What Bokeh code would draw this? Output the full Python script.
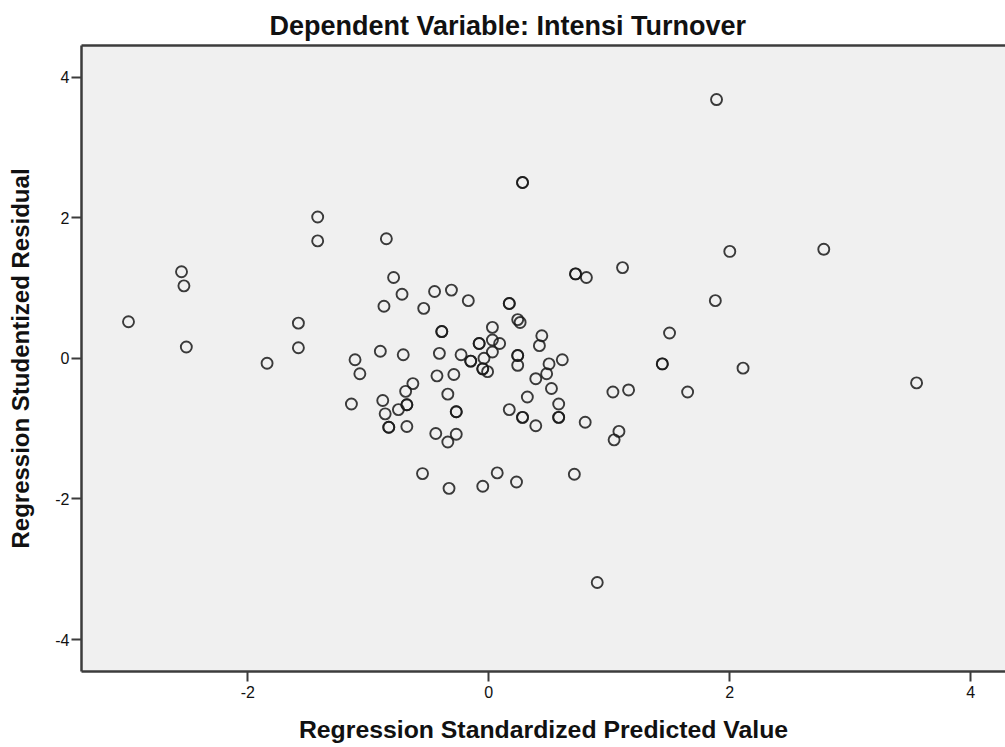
from bokeh.plotting import figure
from bokeh.models import Range1d, LinearAxis, FixedTicker, Title
from bokeh.embed import file_html
from bokeh.resources import INLINE

# Regression Standardized Predicted Value (x) and Studentized Residual (y)
pred = [1.89, 0.28, 0.28, -1.42, -1.42, -0.85, -2.55, -2.53, -2.99, -2.51, -1.58, -1.58, -1.84,
        2.00, 2.78, 1.11, 0.81, 0.72, 0.72, 1.88, 1.50, 1.44, 1.44, 2.11, 3.55, 1.03, 1.16, 1.65,
        0.80, 1.08, 1.04, 0.71, 0.90, -0.55, -0.33, -0.05, 0.07, 0.23,
        -0.79, -0.72, -0.87, -0.45, -0.31, -0.17, -0.54, 0.17, 0.17, -0.39, -0.39, -0.90, -0.71,
        -1.11, -1.07, -1.14, -0.88, -0.86, -0.83, -0.83, -0.75, -0.68, -0.68, -0.69, -0.63, -0.68,
        -0.41, -0.43, -0.29, -0.34, -0.27, -0.27, -0.44, -0.34, -0.27,
        0.03, 0.24, 0.26, 0.44, 0.42, -0.08, -0.08, 0.03, 0.09, 0.03, -0.04, -0.23, -0.15, -0.15,
        -0.05, -0.05, -0.01, 0.24, 0.24, 0.24, 0.61, 0.50, 0.48, 0.39, 0.52, 0.32, 0.58, 0.58, 0.58,
        0.17, 0.28, 0.28, 0.39]
resid = [3.68, 2.50, 2.50, 2.01, 1.67, 1.70, 1.23, 1.03, 0.52, 0.16, 0.50, 0.15, -0.07,
         1.52, 1.55, 1.29, 1.15, 1.20, 1.20, 0.82, 0.36, -0.08, -0.08, -0.14, -0.35, -0.48, -0.45, -0.48,
         -0.91, -1.04, -1.16, -1.65, -3.19, -1.64, -1.85, -1.82, -1.63, -1.76,
         1.15, 0.91, 0.74, 0.95, 0.97, 0.82, 0.71, 0.78, 0.78, 0.38, 0.38, 0.10, 0.05,
         -0.02, -0.22, -0.65, -0.60, -0.79, -0.98, -0.98, -0.73, -0.66, -0.66, -0.47, -0.36, -0.97,
         0.07, -0.25, -0.23, -0.51, -0.76, -0.76, -1.07, -1.19, -1.08,
         0.44, 0.55, 0.51, 0.32, 0.18, 0.21, 0.21, 0.26, 0.21, 0.09, 0.00, 0.05, -0.04, -0.04,
         -0.15, -0.15, -0.19, 0.04, 0.04, -0.10, -0.02, -0.08, -0.22, -0.29, -0.43, -0.55, -0.65, -0.84, -0.84,
         -0.73, -0.84, -0.84, -0.96]

x_ticks = [-2, 0, 2, 4]
y_ticks = [-4, -2, 0, 2, 4]
x_tick_labels = ["-2", "0", "2", "4"]
y_tick_labels = ["-4", "-2", "0", "2", "4"]

title_text = "Dependent Variable: Intensi Turnover"
x_label = "Regression Standardized Predicted Value"
y_label = "Regression Studentized Residual"

FONT = "Liberation Sans"
AX = "#3c3c3c"

p = figure(width=1005, height=747,
           x_range=Range1d(-3.38, 4.288), y_range=Range1d(-4.455, 4.449),
           output_backend="svg", toolbar_location=None,
           min_border_left=81, min_border_right=0, min_border_top=45, min_border_bottom=76,
           x_axis_location="below", y_axis_location="left")

p.title = Title(text=title_text, align="left", offset=188, text_font=FONT,
                text_font_size="27px", text_font_style="bold", text_color="#111111", standoff=10)

p.background_fill_color = "#f0f0f0"
p.border_fill_color = "white"
p.outline_line_color = None
p.xgrid.visible = False
p.ygrid.visible = False

for ax, ticks, labs, lab in ((p.xaxis[0], x_ticks, x_tick_labels, x_label),
                             (p.yaxis[0], y_ticks, y_tick_labels, y_label)):
    ax.ticker = FixedTicker(ticks=ticks)
    ax.major_label_overrides = {t: s for t, s in zip(ticks, labs)}
    ax.minor_tick_line_color = None
    ax.major_tick_in = 0
    ax.major_tick_out = 10
    ax.major_tick_line_width = 2
    ax.major_tick_line_color = AX
    ax.axis_line_width = 2.5
    ax.axis_line_color = AX
    ax.major_label_text_font = FONT
    ax.major_label_text_font_size = "16px"
    ax.major_label_text_color = "#111111"
    ax.axis_label = lab
    ax.axis_label_text_font = FONT
    ax.axis_label_text_font_style = "bold"
    ax.axis_label_text_color = "#111111"

p.xaxis.axis_label_text_font_size = "24.8px"
p.yaxis.axis_label_text_font_size = "24px"
p.xaxis.major_label_standoff = 4
p.yaxis.major_label_standoff = 2
p.xaxis.axis_label_standoff = 15
p.yaxis.axis_label_standoff = 18

# top frame line
top = LinearAxis(ticker=FixedTicker(ticks=[]), axis_line_width=2.5, axis_line_color=AX,
                 major_tick_line_color=None, minor_tick_line_color=None,
                 major_label_text_font_size="0px")
p.add_layout(top, "above")

p.scatter(pred, resid, marker="circle", size=11, fill_color=None,
          line_color="#1a1a1a", line_width=1.9, line_alpha=0.85)

open("out.html", "w").write(file_html(p, INLINE))
